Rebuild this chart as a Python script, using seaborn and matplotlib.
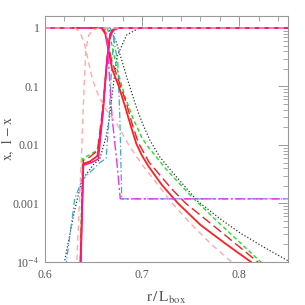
import numpy as np
import pandas as pd
import matplotlib
matplotlib.use("Agg")
import matplotlib.pyplot as plt
import seaborn as sns
from matplotlib.ticker import FixedLocator, NullFormatter, LogLocator, MultipleLocator

# ---------------- data ----------------
# light pink dashed
pink_x_r = [0.632, 0.634, 0.636, 0.638, 0.640, 0.642, 0.645, 0.649, 0.656, 0.85]
pink_x_y = [5e-5, 3e-4, 0.0017, 0.01, 0.08, 0.42, 0.75, 0.92, 1.0, 1.0]
pink_1mx_r = [0.60, 0.631, 0.636, 0.641, 0.645, 0.649, 0.655, 0.662, 0.6745, 0.687, 0.700, 0.715, 0.731, 0.750, 0.770, 0.792, 0.800]
pink_1mx_y = [1.0, 1.0, 0.85, 0.51, 0.25, 0.13, 0.07, 0.042, 0.022, 0.0095, 0.0046, 0.0022, 0.001, 4.5e-4, 2.1e-4, 1e-4, 7.5e-5]

# red solid
red_x_r = [0.635, 0.6365, 0.6395, 0.646, 0.654, 0.659, 0.663, 0.666, 0.669, 0.675, 0.85]
red_x_y = [5e-5, 1e-4, 0.0048, 0.0052, 0.0065, 0.03, 0.2, 0.6, 0.92, 1.0, 1.0]
red_1mx_r = [0.60, 0.658, 0.662, 0.665, 0.669, 0.676, 0.682, 0.688, 0.694, 0.700, 0.707, 0.720, 0.737, 0.760, 0.785, 0.812, 0.815]
red_1mx_y = [1.0, 1.0, 0.8, 0.45, 0.2, 0.1, 0.048, 0.022, 0.0105, 0.0065, 0.0042, 0.0021, 0.001, 4.3e-4, 2.1e-4, 1e-4, 9e-5]

# red long dashed
redd_x_r = [0.635, 0.6365, 0.6395, 0.646, 0.654, 0.660, 0.664, 0.668, 0.673, 0.85]
redd_x_y = [5e-5, 1e-4, 0.0055, 0.0062, 0.008, 0.05, 0.3, 0.8, 1.0, 1.0]
redd_1mx_r = [0.60, 0.660, 0.664, 0.668, 0.677, 0.684, 0.690, 0.696, 0.707, 0.730, 0.745, 0.780, 0.819, 0.822]
redd_1mx_y = [1.0, 1.0, 0.7, 0.3, 0.11, 0.05, 0.022, 0.011, 0.0051, 0.0018, 0.001, 3.4e-4, 1e-4, 9e-5]

# green short dashed
green_x_r = [0.635, 0.6365, 0.6385, 0.651, 0.656, 0.660, 0.664, 0.667, 0.672, 0.85]
green_x_y = [5e-5, 1e-4, 0.0058, 0.0076, 0.0098, 0.05, 0.3, 0.8, 1.0, 1.0]
green_1mx_r = [0.60, 0.664, 0.668, 0.674, 0.682, 0.690, 0.700, 0.707, 0.725, 0.751, 0.780, 0.800, 0.822, 0.825]
green_1mx_y = [1.0, 1.0, 0.6, 0.2, 0.07, 0.03, 0.013, 0.0089, 0.0038, 0.0013, 4.5e-4, 2.2e-4, 1e-4, 9e-5]

# black dotted
black_x_r = [0.618, 0.620, 0.6306, 0.638, 0.651, 0.656, 0.663, 0.666, 0.669, 0.674, 0.684, 0.697, 0.85]
black_x_y = [5e-5, 1e-4, 7.8e-4, 0.0025, 0.0049, 0.0055, 0.014, 0.027, 0.07, 0.32, 0.76, 1.0, 1.0]
black_1mx_r = [0.60, 0.663, 0.668, 0.673, 0.679, 0.685, 0.693, 0.700, 0.708, 0.718, 0.730, 0.757, 0.780, 0.800, 0.825, 0.85]
black_1mx_y = [1.0, 1.0, 0.85, 0.6, 0.28, 0.13, 0.05, 0.024, 0.012, 0.0063, 0.0036, 0.0011, 5.5e-4, 3.2e-4, 1.8e-4, 1.05e-4]

# cyan dash-dot
cyan_x_r = [0.621, 0.622, 0.6306, 0.638, 0.656, 0.663, 0.666, 0.669, 0.672, 0.676, 0.85]
cyan_x_y = [5e-5, 1e-4, 0.0012, 0.0025, 0.0049, 0.006, 0.03, 0.3, 0.9, 1.0, 1.0]
cyan_1mx_r = [0.60, 0.667, 0.671, 0.675, 0.677, 0.679, 0.85]
cyan_1mx_y = [1.0, 1.0, 0.62, 0.25, 0.03, 0.0012, 0.0012]

# magenta solid (x) and magenta dash-dot (1-x)
mag_x_r = [0.6355, 0.637, 0.6395, 0.648, 0.655, 0.660, 0.664, 0.667, 0.672, 0.85]
mag_x_y = [5e-5, 1e-4, 0.0045, 0.005, 0.0058, 0.04, 0.3, 0.8, 1.0, 1.0]
mag_1mx_r = [0.60, 0.662, 0.664, 0.669, 0.674, 0.6775, 0.85]
mag_1mx_y = [1.0, 1.0, 0.6, 0.03, 0.005, 0.0012, 0.0012]

x_ticks = [0.6, 0.7, 0.8]
x_tick_labels = ["0.6", "0.7", "0.8"]
y_ticks = [1e-4, 1e-3, 1e-2, 1e-1, 1]
y_tick_labels = [r"10$^{-4}$", "0.001", "0.01", "0.1", "1"]

# ---------------- plotting ----------------
sns.set_theme(style="white")
plt.rcParams["font.family"] = ["Liberation Serif", "DejaVu Serif"]
plt.rcParams["mathtext.fontset"] = "stix"

fig = plt.figure(figsize=(3.05, 3.05), dpi=100)
ax = fig.add_axes([0.1475, 0.141, 0.7965, 0.8065])

def draw(r, y, color, ls, lw=0.9):
    sns.lineplot(x=r, y=y, ax=ax, color=color, linestyle=ls, linewidth=lw,
                 sort=False, estimator=None, legend=False)

dotted = (0, (1, 1.6))
short_dash = (0, (3, 2))
long_dash = (0, (7, 3))
pink_dash = (0, (4, 3))
dashdot = (0, (5, 2, 1, 2))
magdash = (0, (7, 2, 1.5, 2))

draw(black_x_r, black_x_y, "#333333", dotted, 0.9)
draw(black_1mx_r, black_1mx_y, "#333333", dotted, 0.9)
draw(cyan_x_r, cyan_x_y, "#3aa8da", dashdot, 0.9)
draw(cyan_1mx_r, cyan_1mx_y, "#3aa8da", dashdot, 0.9)
draw(green_x_r, green_x_y, "#22dd22", short_dash, 1.0)
draw(green_1mx_r, green_1mx_y, "#22dd22", short_dash, 1.0)
draw(redd_x_r, redd_x_y, "#ee2222", long_dash, 1.0)
draw(redd_1mx_r, redd_1mx_y, "#ee2222", long_dash, 1.0)
draw(red_x_r, red_x_y, "#ff2020", "-", 1.3)
draw(red_1mx_r, red_1mx_y, "#ff2020", "-", 1.3)
draw(mag_x_r, mag_x_y, "#ff1493", "-", 1.1)
draw(mag_1mx_r, mag_1mx_y, "#ee33ee", magdash, 1.0)
draw(pink_x_r, pink_x_y, "#ffaaaa", pink_dash, 1.0)
draw(pink_1mx_r, pink_1mx_y, "#ffaaaa", pink_dash, 1.0)

ax.set_yscale("log")
ax.set_xlim(0.6, 0.85)
ax.set_ylim(1e-4, 1.6)

ax.xaxis.set_major_locator(FixedLocator(x_ticks))
ax.set_xticklabels(x_tick_labels)
ax.xaxis.set_minor_locator(MultipleLocator(0.02))
ax.yaxis.set_major_locator(FixedLocator(y_ticks))
ax.set_yticklabels(y_tick_labels)
ax.yaxis.set_minor_locator(LogLocator(base=10, subs=np.arange(2, 10)))
ax.yaxis.set_minor_formatter(NullFormatter())

ax.tick_params(which="both", direction="in", top=True, right=True,
               color="#999999", labelsize=8.5, labelcolor="#555555")
ax.tick_params(which="major", length=7, width=0.7)
ax.tick_params(which="minor", length=3.5, width=0.6)
ax.tick_params(axis="y", pad=4)
ax.tick_params(axis="x", pad=5)

for s in ax.spines.values():
    s.set_color("#999999")
    s.set_linewidth(0.8)

ax.set_xlabel(r"$\mathrm{r\,/\,L_{box}}$", fontsize=11, color="#555555")
ax.set_ylabel(r"$\mathrm{x,\ 1-x}$", fontsize=10, color="#555555")
ax.xaxis.set_label_coords(0.5, -0.115)
ax.yaxis.set_label_coords(-0.12, 0.5)

fig.savefig("out.png", dpi=100)
